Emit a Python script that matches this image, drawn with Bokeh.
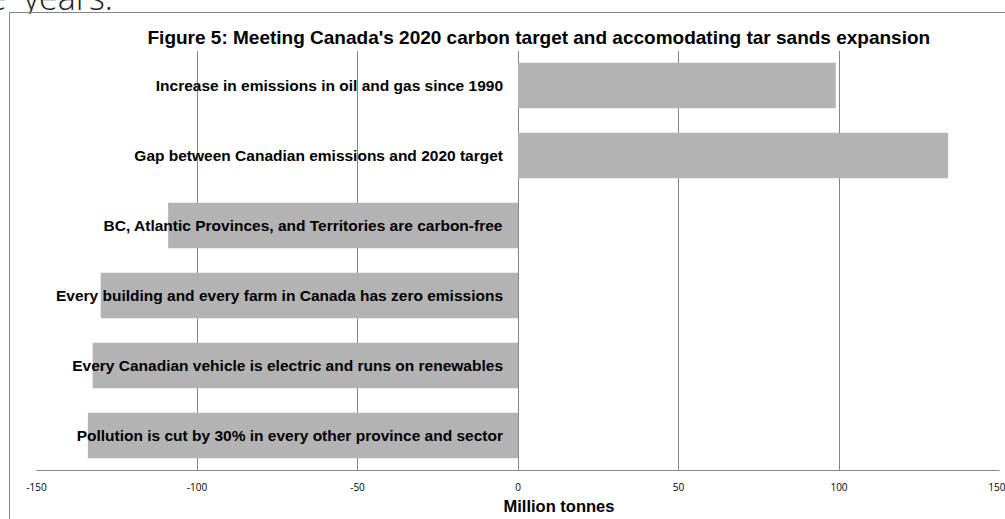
from bokeh.plotting import figure
from bokeh.models import FactorRange, Range1d, ColumnDataSource, FixedTicker, Title, Div
from bokeh.layouts import column
from bokeh.core.properties import value
from bokeh.embed import file_html
from bokeh.resources import INLINE

categories = [
    "Increase in emissions in oil and gas since 1990",
    "Gap between Canadian emissions and 2020 target",
    "BC, Atlantic Provinces, and Territories are carbon-free",
    "Every building and every farm in Canada has zero emissions",
    "Every Canadian vehicle is electric and runs on renewables",
    "Pollution is cut by 30% in every other province and sector",
]
values = [99, 134, -109, -130, -132.5, -134]
x_ticks = [-150, -100, -50, 0, 50, 100, 150]
x_tick_labels = ["-150", "-100", "-50", "0", "50", "100", "150"]
chart_title = "Figure 5: Meeting Canada's 2020 carbon target and accomodating tar sands expansion"
x_title = "Million tonnes"
page_text = "e years."

GRID = "#868686"
BAR = "#b3b3b3"

source = ColumnDataSource(data=dict(cat=categories, val=values, zero=[0] * len(values)))

p = figure(
    width=996, height=507,
    y_range=FactorRange(factors=list(reversed(categories))),
    x_range=Range1d(-150, 150),
    output_backend="svg", toolbar_location=None,
    min_border_left=26, min_border_right=7, min_border_top=37, min_border_bottom=50,
    margin=(0, 0, 0, 9),
    styles={"border-top": "1px solid #868686", "border-left": "1px solid #868686"},
)
p.title.visible = False
p.outline_line_color = None
p.background_fill_color = "white"
p.border_fill_color = "white"

p.hbar(y="cat", left="zero", right="val", height=0.65, source=source,
       fill_color=BAR, line_color=None)

p.text(x="zero", y="cat", text="cat", source=source, x_offset=-15,
       text_align="right", text_baseline="middle",
       text_font=value("Liberation Sans"), text_font_style="bold",
       text_font_size="15.5px", text_color="black")

p.yaxis.visible = False
p.ygrid.visible = False
p.xgrid.ticker = FixedTicker(ticks=x_ticks)
p.xgrid.grid_line_color = GRID
p.xaxis.ticker = FixedTicker(ticks=x_ticks)
p.xaxis.major_label_overrides = {t: lab for t, lab in zip(x_ticks, x_tick_labels)}
p.xaxis.axis_line_color = GRID
p.xaxis.major_tick_line_color = None
p.xaxis.minor_tick_line_color = None
p.xaxis.major_label_text_font = "Open Sans"
p.xaxis.major_label_text_font_size = "10px"
p.xaxis.major_label_text_color = "black"
p.xaxis.major_label_standoff = 6

p.add_layout(Title(text=chart_title, align="left", offset=111, standoff=6,
                   text_font="Liberation Sans", text_font_style="bold",
                   text_font_size="19px", text_color="black"), "above")
p.add_layout(Title(text=x_title, align="left", offset=467, standoff=3,
                   text_font="Liberation Sans", text_font_style="bold",
                   text_font_size="16.5px", text_color="black"), "below")

header = Div(
    text=('<div style="position:relative; top:-20px; left:-12px; white-space:nowrap; '
          'font-family:\'Open Sans\'; font-weight:300; font-size:34px; line-height:34px; color:#222; '
          'word-spacing:8px;">' + page_text + '</div>'),
    width=1005, height=12, margin=0,
    styles={"overflow": "visible"},
)

layout = column(header, p, spacing=0, margin=0)

open("out.html", "w").write(file_html(layout, INLINE))
